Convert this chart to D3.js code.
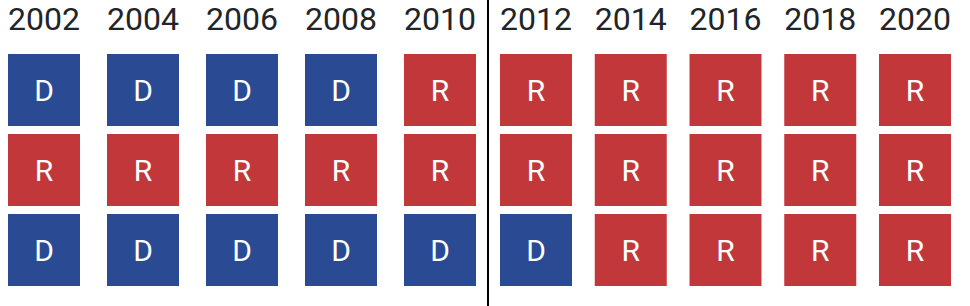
<!DOCTYPE html>
<html>
<head>
<meta charset="utf-8">
<script src="https://cdn.jsdelivr.net/npm/d3@7"></script>
<style>
  body { margin: 0; background: #fff; }
  svg { display: block; }
</style>
</head>
<body>
<div id="chart"></div>
<script>
var years = ["2002", "2004", "2006", "2008", "2010", "2012", "2014", "2016", "2018", "2020"];
var rowNames = ["row1", "row2", "row3"];
var row1 = ["D", "D", "D", "D", "R", "R", "R", "R", "R", "R"];
var row2 = ["R", "R", "R", "R", "R", "R", "R", "R", "R", "R"];
var row3 = ["D", "D", "D", "D", "D", "D", "R", "R", "R", "R"];
var rows = [row1, row2, row3];
var leftYears = years.slice(0, 5);
var rightYears = years.slice(5);

var width = 970, height = 306;
var colors = { D: "#2a4b93", R: "#c2383a" };

var svg = d3.select("#chart").append("svg")
    .attr("width", width)
    .attr("height", height);

// two panels split by the divider, each with its own band scale
var xLeft = d3.scaleBand().domain(leftYears).range([8, 476]).paddingInner(27 / 99).paddingOuter(0);
var xRight = d3.scaleBand().domain(rightYears).range([500, 951]).paddingInner(22.75 / 94.75).paddingOuter(0);
var divider = 488;

function xPos(year) {
    return leftYears.indexOf(year) >= 0 ? xLeft(year) : xRight(year);
}
var bw = xLeft.bandwidth();

var y = d3.scaleBand().domain(rowNames).range([54, 286]).paddingInner(8 / 80).paddingOuter(0);

var cells = [];
rows.forEach(function (r, i) {
    r.forEach(function (v, j) {
        cells.push({ year: years[j], row: rowNames[i], party: v });
    });
});

svg.selectAll("text.year")
    .data(years)
    .enter().append("text")
    .attr("class", "year")
    .attr("x", function (d) { return xPos(d) + bw / 2; })
    .attr("y", 30)
    .attr("text-anchor", "middle")
    .style("font-family", "Roboto, 'Noto Sans', sans-serif")
    .style("font-size", "32px")
    .style("fill", "#212529")
    .text(function (d) { return d; });

var g = svg.selectAll("g.cell")
    .data(cells)
    .enter().append("g")
    .attr("class", "cell")
    .attr("transform", function (d) { return "translate(" + xPos(d.year) + "," + y(d.row) + ")"; });

g.append("rect")
    .attr("width", bw)
    .attr("height", y.bandwidth())
    .style("fill", function (d) { return colors[d.party]; });

g.append("text")
    .attr("x", bw / 2)
    .attr("y", y.bandwidth() / 2 + 11)
    .attr("text-anchor", "middle")
    .style("font-family", "Roboto, 'Noto Sans', sans-serif")
    .style("font-size", "30px")
    .style("fill", "#fff")
    .text(function (d) { return d.party; });

svg.append("line")
    .attr("x1", divider).attr("x2", divider)
    .attr("y1", 0).attr("y2", height)
    .style("stroke", "#000")
    .style("stroke-width", 2);
</script>
</body>
</html>
